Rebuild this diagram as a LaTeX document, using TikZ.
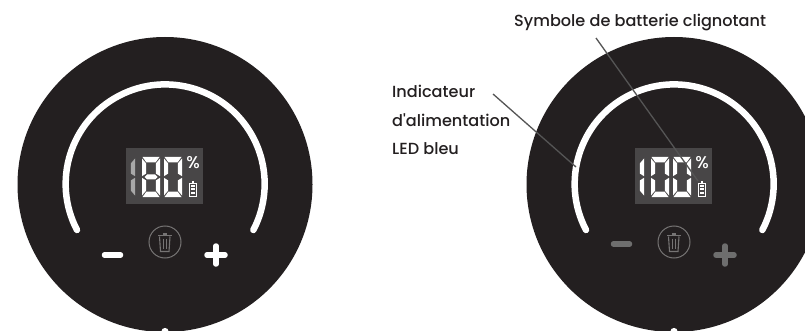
\documentclass[tikz,border=0pt]{standalone}
\usepackage{fontspec}
\setmainfont{Poppins}
\newfontfamily\labfont{Poppins Medium}
\definecolor{ink}{HTML}{231F20}
\definecolor{lcd}{HTML}{484647}
\definecolor{dimw}{HTML}{A8A8A8}
\definecolor{dimk}{HTML}{6E6E6E}
\definecolor{iconc}{HTML}{767474}
\definecolor{leader}{HTML}{555555}
\newcommand\sgT[1]{\fill[#1] (0.5,0)--(17.5,0)--(13.5,5.5)--(4.5,5.5)--cycle;}
\newcommand\sgB[1]{\fill[#1] (0.5,40)--(17.5,40)--(13.5,34.5)--(4.5,34.5)--cycle;}
\newcommand\sgM[1]{\fill[#1] (2.5,20)--(5,17.5)--(13,17.5)--(15.5,20)--(13,22.5)--(5,22.5)--cycle;}
\newcommand\sgUL[1]{\fill[#1] (0,1.5)--(4.2,6.5)--(4.2,16.5)--(0,19.2)--cycle;}
\newcommand\sgLL[1]{\fill[#1] (0,20.8)--(4.2,23.5)--(4.2,33.5)--(0,38.5)--cycle;}
\newcommand\sgUR[1]{\fill[#1] (18,1.5)--(13.8,6.5)--(13.8,16.5)--(18,19.2)--cycle;}
\newcommand\sgLR[1]{\fill[#1] (18,20.8)--(13.8,23.5)--(13.8,33.5)--(18,38.5)--cycle;}
\newcommand\dgzero[1]{\sgT{#1}\sgB{#1}\sgUL{#1}\sgLL{#1}\sgUR{#1}\sgLR{#1}}
\newcommand\batt{%
  \draw[white,line width=.8] (189.5,183)rectangle(196,196);
  \fill[white] (191.5,181)rectangle(194,183);
  \fill[white] (191,185)rectangle(194.5,187);
  \fill[white] (191,188.3)rectangle(194.5,190.3);
  \fill[white] (191,191.6)rectangle(194.5,193.6);}
\newcommand\panelbase{%
  \fill[ink] (165,184.5) circle[radius=147.5];
  \fill[white] (165,331.5) circle[radius=3.6];
  \draw[white,line width=6.5,line cap=round] (77,230) arc[start angle=152.4,end angle=387.6,radius=99.5];
  \fill[lcd] (126,148) rectangle (203,204);
  \node[pct] (pct\pid) at (193,163) {\%};
  \batt
  \draw[iconc,line width=1] (165,242) circle[radius=16];
  \draw[iconc,line width=1] (158,235.3)--(171.5,235.3);
  \fill[iconc] (162.5,233.3) rectangle (167,235);
  \draw[iconc,line width=1.1] (159.5,236.5)--(160.5,251.5)--(169,251.5)--(170,236.5);
  \draw[iconc,line width=.9] (163,238.5)--(163,249) (166.5,238.5)--(166.5,249);}
\tikzset{
  lab/.style={anchor=west,text=ink,font=\labfont\fontsize{16.1}{18}\selectfont,inner sep=0pt},
  pct/.style={text=white,font=\labfont\fontsize{17}{18}\selectfont,inner sep=0pt},
  leaderl/.style={draw=leader,line width=1.3},
  btn/.style={line width=5.5,line cap=round}
}
\begin{document}
\begin{tikzpicture}[x=1pt,y=-1pt]
\useasboundingbox (0,0) rectangle (805,331);
\clip (0,0) rectangle (805,331);
\fill[white] (0,0) rectangle (805,331);
% left unit
\def\pid{l}
\panelbase
\begin{scope}[shift={(117,157)}]\sgUR{dimw}\sgLR{dimw}\end{scope}
\begin{scope}[shift={(142,157)}]\dgzero{white}\sgM{white}\end{scope}
\begin{scope}[shift={(164,157)}]\dgzero{white}\end{scope}
\draw[white,btn] (104.5,255)--(120.5,255);
\draw[white,btn] (207,255)--(225,255) (216,246)--(216,264);
% right unit
\begin{scope}[xshift=509]
\def\pid{r}
\panelbase
\begin{scope}[shift={(117,157)}]\sgUR{white}\sgLR{white}\end{scope}
\begin{scope}[shift={(142,157)}]\dgzero{white}\end{scope}
\begin{scope}[shift={(164,157)}]\dgzero{white}\end{scope}
\draw[dimk,btn] (104.5,244)--(120.5,244);
\draw[dimk,btn] (207,255)--(225,255) (216,246)--(216,264);
\end{scope}
% labels
\node[lab] (sym) at (514,22) {Symbole de batterie clignotant};
\node[lab] (ind1) at (392,91) {Indicateur};
\node[lab] (ind2) at (392,120) {d'alimentation};
\node[lab] (ind3) at (392,149) {LED bleu};
\coordinate (symS) at (596,38);
\coordinate (battT) at (698,181);
\coordinate (indS) at (493,94);
\coordinate (ringP) at (576,167);
\draw[leaderl] (symS)--(battT);
\draw[leaderl] (indS)--(ringP);
\end{tikzpicture}
\end{document}
